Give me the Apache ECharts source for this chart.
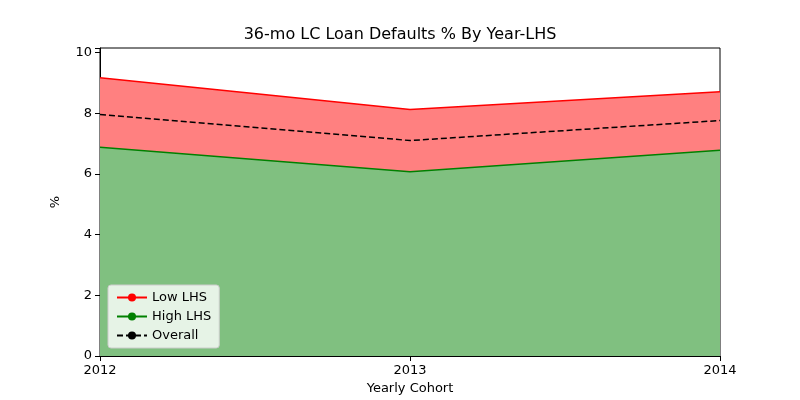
<!DOCTYPE html>
<html><head><meta charset="utf-8">
<script src="https://cdn.jsdelivr.net/npm/echarts@6/dist/echarts.min.js"></script>
<style>html,body{margin:0;padding:0;background:#fff}#c{width:800px;height:400px}</style>
</head><body><div id="c"></div>
<script>
const years = [2012, 2013, 2014];
const lowLHS = [9.17, 8.12, 8.71];
const highLHS = [6.88, 6.07, 6.78];
const overall = [7.96, 7.10, 7.76];
const pts = a => a.map((v, i) => [years[i], v]);
const chart = echarts.init(document.getElementById('c'));
const ax = {color:'#000', fontSize:13, fontFamily:'DejaVu Sans'};
chart.setOption({
  animation:false,
  title:{text:'36-mo LC Loan Defaults % By Year-LHS', left:'center', top:22,
    textStyle:{fontSize:16, fontWeight:'normal', color:'#000', fontFamily:'DejaVu Sans'}},
  grid:{left:100, right:80, top:48, bottom:44, show:true, borderColor:'#000', borderWidth:1},
  legend:{left:108, bottom:52, orient:'vertical', backgroundColor:'rgba(255,255,255,0.8)',
    borderColor:'#ccc', borderWidth:1, borderRadius:3, padding:[6,8], itemGap:6, itemWidth:30, itemHeight:10,
    textStyle:{fontSize:13, color:'#000', fontFamily:'DejaVu Sans'},
    data:['Low LHS','High LHS','Overall']},
  xAxis:{type:'value', min:2012, max:2014, interval:1, name:'Yearly Cohort', nameLocation:'middle', nameGap:24,
    nameTextStyle:ax, axisLabel:Object.assign({formatter:v=>String(v)}, ax),
    axisLine:{lineStyle:{color:'#000'}}, axisTick:{lineStyle:{color:'#000'}}, splitLine:{show:false}},
  yAxis:{type:'value', min:0, max:10.15, interval:2, name:'%', nameLocation:'middle', nameGap:38,
    nameTextStyle:ax, axisLabel:Object.assign({formatter:v=>v>10.1?'':String(v)}, ax),
    axisLine:{show:true, lineStyle:{color:'#000'}}, axisTick:{show:true, lineStyle:{color:'#000'}}, splitLine:{show:false}},
  series:[
    {name:'Low LHS', type:'line', data:pts(lowLHS), symbol:'none', lineStyle:{color:'#ff0000', width:1.5},
      itemStyle:{color:'#ff0000'}, areaStyle:{color:'#ff8080', opacity:1}, z:1},
    {name:'High LHS', type:'line', data:pts(highLHS), symbol:'none', lineStyle:{color:'#008000', width:1.5},
      itemStyle:{color:'#008000'}, areaStyle:{color:'#80c080', opacity:1}, z:2},
    {name:'Overall', type:'line', data:pts(overall), symbol:'none', lineStyle:{color:'#000', width:1.5, type:[6,3]},
      itemStyle:{color:'#000'}, z:3}
  ]
});
</script></body></html>
